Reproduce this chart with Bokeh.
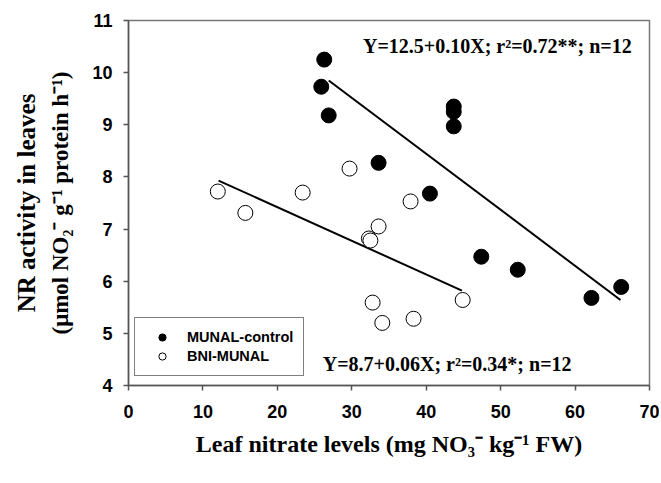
from bokeh.plotting import figure
from bokeh.models import Range1d, FixedTicker, Title, Legend, LegendItem
from bokeh.core.properties import value
from bokeh.embed import file_html
from bokeh.resources import INLINE

# MUNAL-control (filled)
munal_x = [26.3, 25.9, 26.9, 33.6, 40.5, 43.7, 43.7, 43.7, 47.4, 52.3, 62.2, 66.2]
munal_y = [10.25, 9.73, 9.18, 8.27, 7.68, 9.35, 9.25, 8.97, 6.47, 6.22, 5.68, 5.89]
# BNI-MUNAL (open)
bni_x = [12.0, 15.7, 23.4, 29.7, 37.9, 33.6, 32.3, 32.5, 32.8, 34.1, 38.3, 44.9]
bni_y = [7.72, 7.31, 7.70, 8.16, 7.53, 7.05, 6.82, 6.78, 5.59, 5.20, 5.28, 5.64]
# regression line end points
munal_fit_x = [26.9, 66.1]
munal_fit_y = [9.85, 5.64]
bni_fit_x = [12.1, 44.8]
bni_fit_y = [7.93, 5.82]

x_ticks = [0, 10, 20, 30, 40, 50, 60, 70]
y_ticks = [4, 5, 6, 7, 8, 9, 10, 11]

eq_munal = "Y=12.5+0.10X; r²=0.72**; n=12"
eq_bni = "Y=8.7+0.06X; r²=0.34*; n=12"

p = figure(frame_width=521, frame_height=365, output_backend="svg", toolbar_location=None,
           x_range=Range1d(0, 70), y_range=Range1d(4, 11),
           min_border_left=128, min_border_top=20, min_border_right=10, min_border_bottom=20)
p.xgrid.visible = False
p.ygrid.visible = False
p.outline_line_color = "#777777"
p.outline_line_width = 1.5
p.background_fill_color = "white"
p.border_fill_color = "white"

for ax in (p.xaxis, p.yaxis):
    ax.axis_line_color = "#555555"
    ax.axis_line_width = 1.5
    ax.major_tick_line_color = "#555555"
    ax.major_tick_line_width = 1.5
    ax.major_tick_out = 5
    ax.major_tick_in = 0
    ax.minor_tick_out = 0
    ax.minor_tick_in = 0
    ax.major_label_text_font = "Liberation Sans"
    ax.major_label_text_font_style = "bold"
    ax.major_label_text_font_size = "18px"
    ax.major_label_text_color = "black"
    ax.axis_label_text_color = "black"
p.xaxis.ticker = FixedTicker(ticks=x_ticks)
p.yaxis.ticker = FixedTicker(ticks=y_ticks)
p.xaxis.major_label_standoff = 14
p.yaxis.major_label_standoff = 11

p.xaxis.axis_label = "Leaf nitrate levels (mg NO₃⁻ kg⁻¹ FW)"
p.xaxis.axis_label_text_font = "Liberation Serif"
p.xaxis.axis_label_text_font_style = "bold"
p.xaxis.axis_label_text_font_size = "24px"
p.xaxis.axis_label_standoff = 10

p.yaxis.axis_label = "(μmol NO₂⁻ g⁻¹ protein h⁻¹)"
p.yaxis.axis_label_text_font = "Liberation Serif"
p.yaxis.axis_label_text_font_style = "bold"
p.yaxis.axis_label_text_font_size = "23px"
p.yaxis.axis_label_standoff = 16

t1 = Title(text="NR activity in leaves", align="center", text_font="Liberation Serif",
           text_font_style="bold", text_font_size="25px", standoff=12, text_color="black")
p.add_layout(t1, "left")

p.line(munal_fit_x, munal_fit_y, line_color="black", line_width=2)
p.line(bni_fit_x, bni_fit_y, line_color="black", line_width=2)

r1 = p.scatter(munal_x, munal_y, size=15, fill_color="black", line_color="black", line_width=1)
r2 = p.scatter(bni_x, bni_y, size=15, fill_color="white", line_color="black", line_width=1)

p.text(x=[31.5], y=[10.52], text=[eq_munal], text_font=value("Liberation Serif"),
       text_font_style="bold", text_font_size="20px", text_baseline="middle", text_color="black")
p.text(x=[26.1], y=[4.42], text=[eq_bni], text_font=value("Liberation Serif"),
       text_font_style="bold", text_font_size="20px", text_baseline="middle", text_color="black")

legend = Legend(items=[LegendItem(label="MUNAL-control", renderers=[r1]),
                       LegendItem(label="BNI-MUNAL", renderers=[r2])],
                location=(6, 9), border_line_color="black", border_line_width=1,
                label_text_font="Liberation Sans", label_text_font_style="bold",
                label_text_font_size="14.5px", label_text_color="black",
                padding=10, spacing=1,
                glyph_width=34, glyph_height=18, label_standoff=8, margin=0,
                label_height=18)
p.add_layout(legend, "center")

open("out.html", "w").write(file_html(p, INLINE))
